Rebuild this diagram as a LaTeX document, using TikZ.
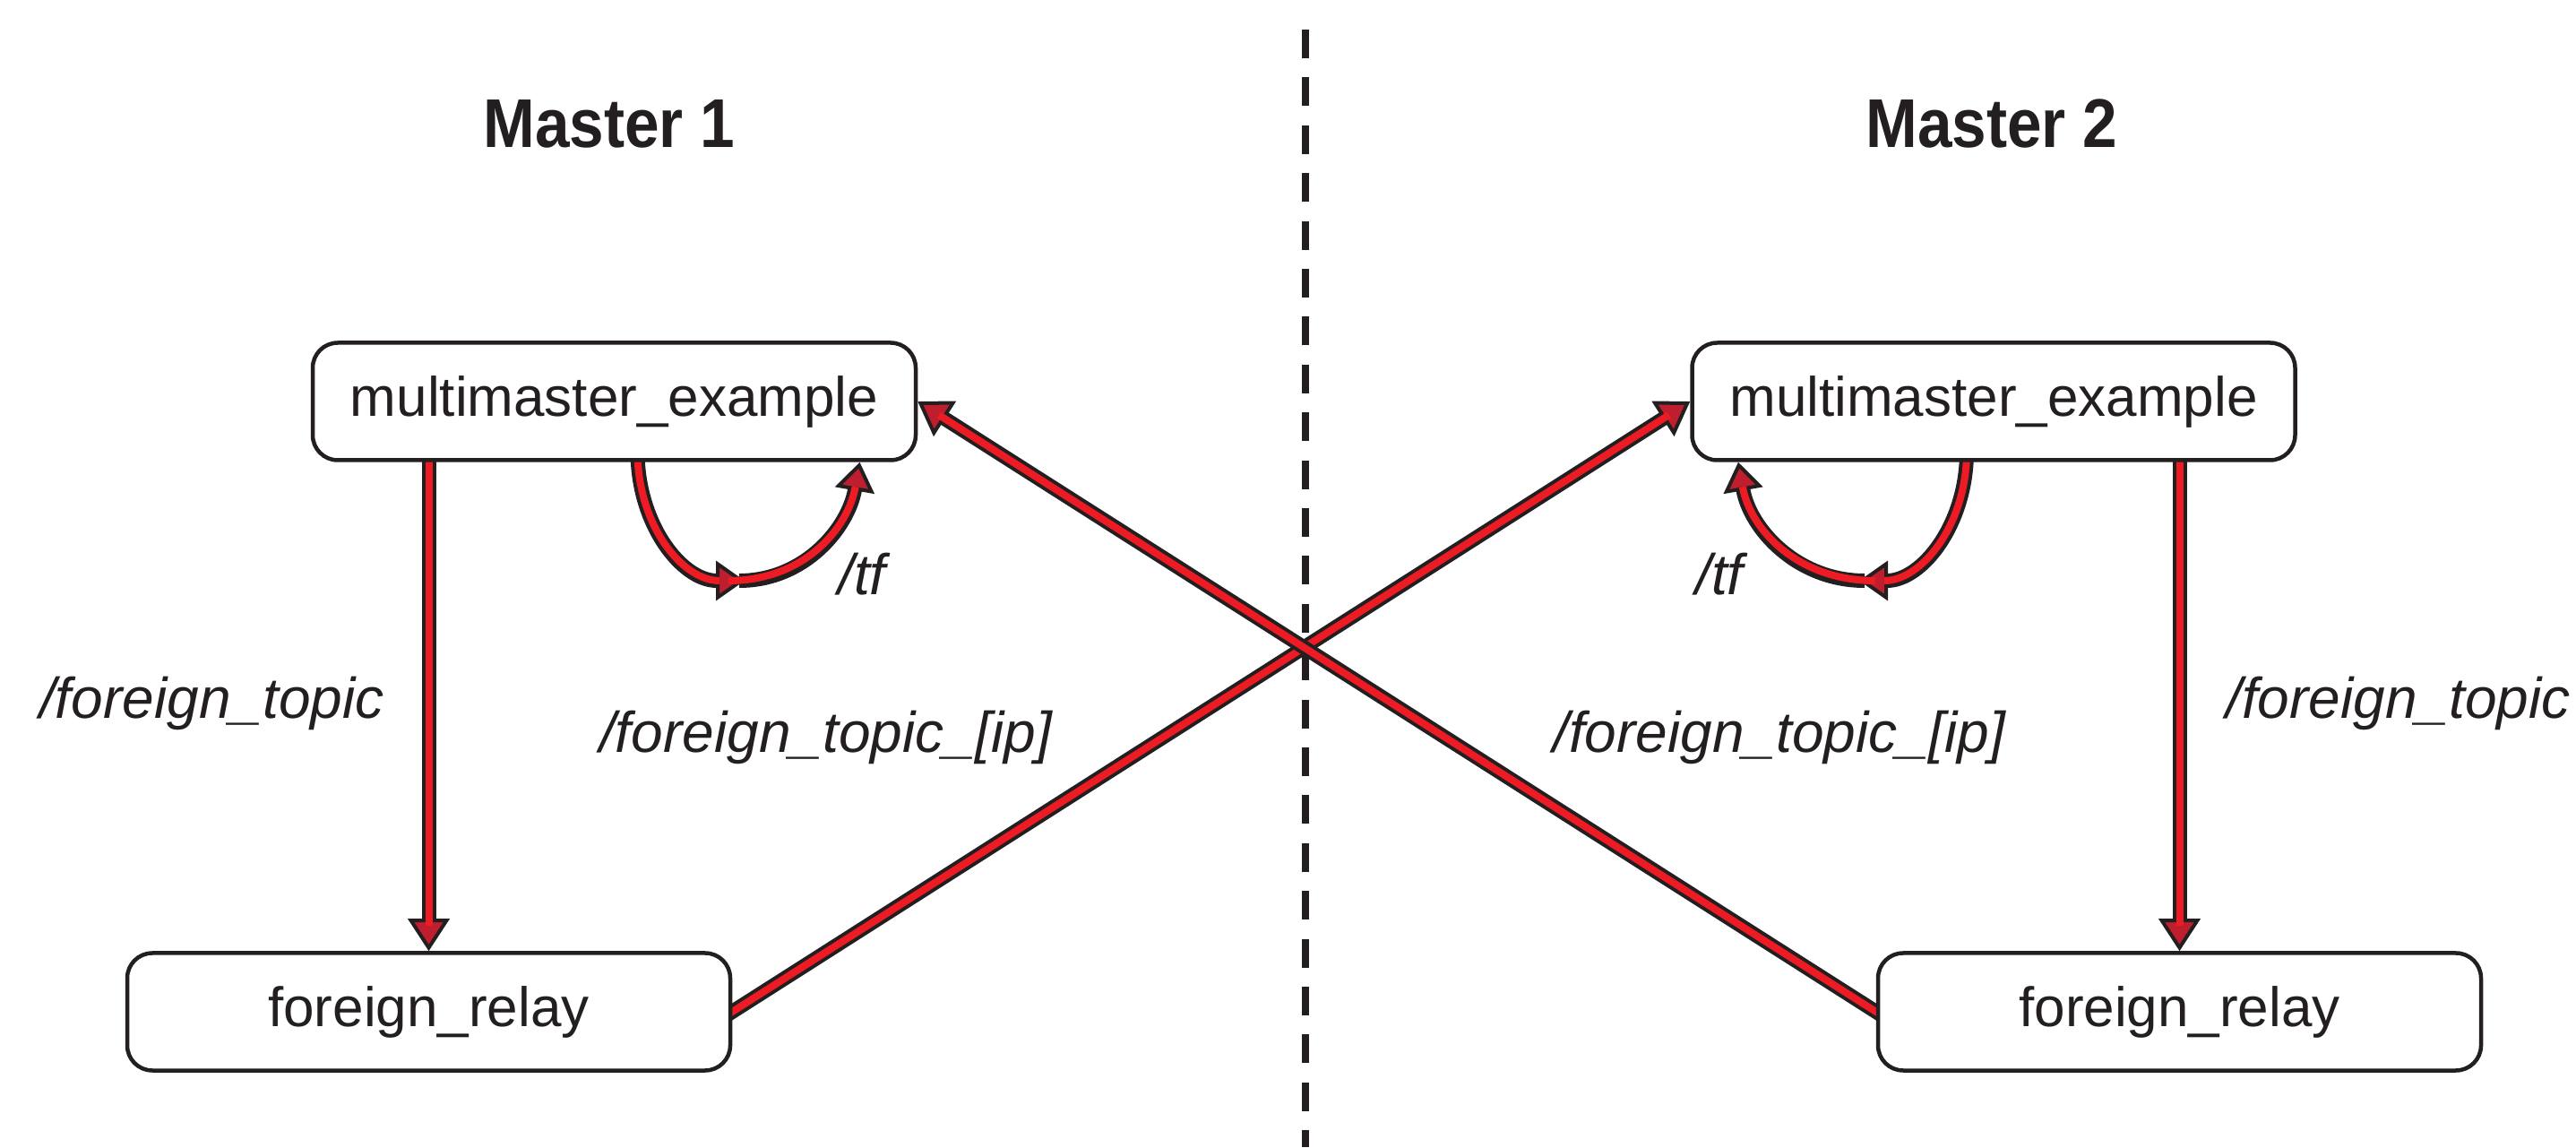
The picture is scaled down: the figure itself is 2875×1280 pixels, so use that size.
\documentclass[tikz,border=0pt]{standalone}
\usepackage{fontspec}
\setmainfont{Liberation Sans}
\newfontfamily\titlefont[FakeStretch=0.9]{Liberation Sans}
\usetikzlibrary{arrows.meta,calc}
\pgfdeclarelayer{background}
\pgfsetlayers{background,main}
\definecolor{ink}{RGB}{35,31,32}
\definecolor{linered}{RGB}{237,28,36}
\definecolor{tipred}{RGB}{190,30,45}
\begin{document}
\begin{tikzpicture}[x=1pt,y=1pt,
  box/.style={draw=ink, fill=white, line width=4.5pt, rounded corners=28pt, minimum width=673pt, minimum height=131pt, inner sep=0pt, font=\fontsize{62}{70}\selectfont, text=ink},
  title/.style={font=\titlefont\bfseries\fontsize{77}{90}\selectfont, text=ink, inner sep=0pt, anchor=base},
  lab/.style={font=\itshape\fontsize{64}{72}\selectfont, text=ink, inner sep=0pt, anchor=base west},
  flow/.style={draw=ink, line width=16pt, shorten <=-12pt, -{Triangle[length=36pt,width=46pt,line width=4pt,fill=tipred]}, postaction={draw=linered, line width=8pt, shorten >=28pt, shorten <=-12pt, -}},
  loopflow/.style={flow, -{Triangle[length=32pt,width=44pt,line width=4pt,fill=tipred]}},
  divider/.style={draw=ink, line width=8pt, dash pattern=on 32pt off 21.4pt}]
\useasboundingbox (0,0) rectangle (2875,1280);

\node[title] (t1) at (680,1115) {Master 1};
\node[title] (t2) at (2223,1115) {Master 2};

\node[box] (A) at (685.5,832) {multimaster\_example};
\node[box] (B) at (478.5,151) {foreign\_relay};
\node[box] (C) at (2225,832) {multimaster\_example};
\node[box] (D) at (2432.5,151) {foreign\_relay};

\coordinate (l1s) at ($(A.south)+(26,0)$);
\coordinate (l1m) at (831,632);
\coordinate (l1n) at (825,632);
\coordinate (l1e) at ($(A.south)+(274,0)$);
\coordinate (r1s) at ($(C.south)+(-30,0)$);
\coordinate (r1m) at (2075,632);
\coordinate (r1n) at (2081,632);
\coordinate (r1e) at ($(C.south)+(-285,0)$);

\begin{pgfonlayer}{background}
\fill[white] (0,0) rectangle (2875,1280);
\draw[divider] (1457,1247) -- (1457,0);
\draw[flow] (A.south -| B.north) -- (B.north);
\draw[flow] (C.south -| D.north) -- (D.north);
\draw[flow] (B.east) -- (C.west);
\draw[flow] (D.west) -- (A.east);
\draw[loopflow] (l1s) to[out=-90,in=180] (l1m);
\draw[loopflow, shorten <=0pt, postaction={shorten <=0pt}] (l1n) to[out=0,in=-100] (l1e);
\draw[loopflow] (r1s) to[out=-90,in=0] (r1m);
\draw[loopflow, shorten <=0pt, postaction={shorten <=0pt}] (r1n) to[out=180,in=-80] (r1e);
\end{pgfonlayer}

\node[lab] (lf1) at (44,478) {/foreign\_topic};
\node[lab] (lip1) at (669,440) {/foreign\_topic\_[ip]};
\node[lab] (ltf1) at (935,616) {/tf};
\node[lab] (ltf2) at (1892,616) {/tf};
\node[lab] (lip2) at (1733,440) {/foreign\_topic\_[ip]};
\node[lab] (lf2) at (2484,478) {/foreign\_topic};
\end{tikzpicture}
\end{document}
